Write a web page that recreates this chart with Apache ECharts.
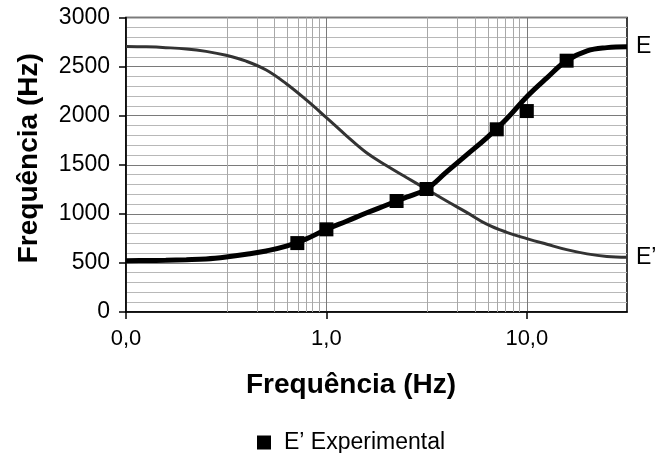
<!DOCTYPE html>
<html>
<head>
<meta charset="utf-8">
<script src="https://cdn.jsdelivr.net/npm/echarts@6/dist/echarts.min.js"></script>
<style>
html,body{margin:0;padding:0;background:#fff;}
#chart{width:657px;height:453px;}
</style>
</head>
<body>
<div id="chart"></div>
<script>
// ---- data ----
const xCurve = [0.1, 0.126, 0.158, 0.2, 0.251, 0.316, 0.398, 0.501, 0.631, 0.794, 1.0,
                1.26, 1.58, 2.0, 2.51, 3.16, 3.98, 5.01, 6.31, 7.94, 10.0,
                12.6, 15.8, 20.0, 25.1, 31.62];
const yE  = [523, 524, 527, 532, 540, 560, 588, 622, 670, 745, 842,
             925, 1008, 1090, 1170, 1253, 1427, 1601, 1774, 1968, 2193,
             2385, 2560, 2660, 2693, 2703];
const yEp = [2705, 2701, 2693, 2680, 2655, 2615, 2555, 2465, 2325, 2160, 1980,
             1795, 1625, 1490, 1370, 1251, 1130, 1015, 895, 812, 748,
             690, 635, 592, 566, 557];

const xExp = [0.716, 1.0, 2.24, 3.16, 7.08, 10.0, 15.8];
const yExp = [702, 842, 1131, 1253, 1861, 2047, 2560];

const xTickValues = [0.1, 1, 10];
const xTickLabels = ['0,0', '1,0', '10,0'];
const xMinorGrid = [0.32, 0.448, 0.552, 0.64, 0.716, 0.785, 0.851, 0.918,
                    3.2, 4.48, 5.52, 6.4, 7.16, 7.85, 8.51, 9.18];

const nameE = 'E';
const nameEp = 'E\u2019';
const nameExp = 'E\u2019 Experimental';
const axisName = 'Frequência (Hz)';

const FONT = 'Liberation Sans, Arial, sans-serif';
const pairs = (xs, ys) => xs.map((x, i) => [x, ys[i]]);

const chart = echarts.init(document.getElementById('chart'), null, {renderer: 'canvas'});
chart.setOption({
  animation: false,
  backgroundColor: '#fff',
  textStyle: {fontFamily: FONT},
  grid: {left: 126, right: 30, top: 17.5, bottom: 141, show: true, borderColor: '#000', borderWidth: 1.5, backgroundColor: 'transparent'},
  legend: {
    data: [nameExp], left: 252, top: 426, icon: 'rect', itemWidth: 14, itemHeight: 14,
    textStyle: {fontSize: 23, color: '#000', fontFamily: FONT, padding: [0, 0, 0, 8]}
  },
  xAxis: {
    type: 'log', logBase: 10, min: 0.1, max: 31.62,
    name: axisName, nameLocation: 'middle', nameGap: 59,
    nameTextStyle: {fontSize: 28, fontWeight: 'bold', color: '#000', fontFamily: FONT, padding: [0, 51, 0, 0]},
    axisLine: {show: true, lineStyle: {color: '#000', width: 1.5}},
    axisTick: {show: true, customValues: xTickValues, length: 7, lineStyle: {color: '#000', width: 1.5}},
    axisLabel: {
      customValues: xTickValues, margin: 16, fontSize: 22, color: '#000', fontFamily: FONT,
      formatter: function (v) {
        let best = 0, d = Infinity;
        xTickValues.forEach((t, i) => { const dd = Math.abs(Math.log10(t) - Math.log10(v)); if (dd < d) { d = dd; best = i; } });
        return xTickLabels[best];
      }
    },
    splitLine: {show: true, lineStyle: {color: '#7a7a7a', width: 1}},
    minorSplitLine: {show: false}
  },
  yAxis: {
    type: 'value', min: 0, max: 3000, interval: 500,
    name: axisName, nameLocation: 'middle', nameGap: 83,
    nameTextStyle: {fontSize: 28, fontWeight: 'bold', color: '#000', fontFamily: FONT, padding: [0, 0, 0, 13]},
    axisLine: {show: true, lineStyle: {color: '#000', width: 1.5}},
    axisTick: {show: true, length: 7, lineStyle: {color: '#000', width: 1.5}},
    axisLabel: {margin: 16, fontSize: 23, color: '#000', fontFamily: FONT, formatter: v => String(v)},
    splitLine: {show: true, lineStyle: {color: '#7a7a7a', width: 1}},
    minorTick: {show: false, splitNumber: 5},
    minorSplitLine: {show: true, lineStyle: {color: '#b8b8b8', width: 1}}
  },
  series: [
    {
      type: 'line', name: 'grid-helper', data: [], silent: true, z: 1,
      markLine: {
        silent: true, z: 1, symbol: ['none', 'none'], label: {show: false},
        lineStyle: {color: '#a8a8a8', type: 'solid', width: 1},
        emphasis: {disabled: true},
        data: xMinorGrid.map(v => ({xAxis: v}))
      }
    },
    {
      type: 'line', name: nameEp, data: pairs(xCurve, yEp), smooth: 0.4, showSymbol: false, z: 3,
      lineStyle: {color: '#333', width: 3}, itemStyle: {color: '#333'},
      endLabel: {show: true, formatter: nameEp, distance: 9, fontSize: 23, color: '#000', fontFamily: FONT}
    },
    {
      type: 'line', name: nameE, data: pairs(xCurve, yE), smooth: 0.4, showSymbol: false, z: 4,
      lineStyle: {color: '#000', width: 5}, itemStyle: {color: '#000'},
      endLabel: {show: true, formatter: nameE, distance: 9, fontSize: 23, color: '#000', fontFamily: FONT}
    },
    {
      type: 'scatter', name: nameExp, data: pairs(xExp, yExp), symbol: 'rect', symbolSize: 14, z: 5,
      itemStyle: {color: '#000', opacity: 1}
    }
  ]
});
</script>
</body>
</html>
